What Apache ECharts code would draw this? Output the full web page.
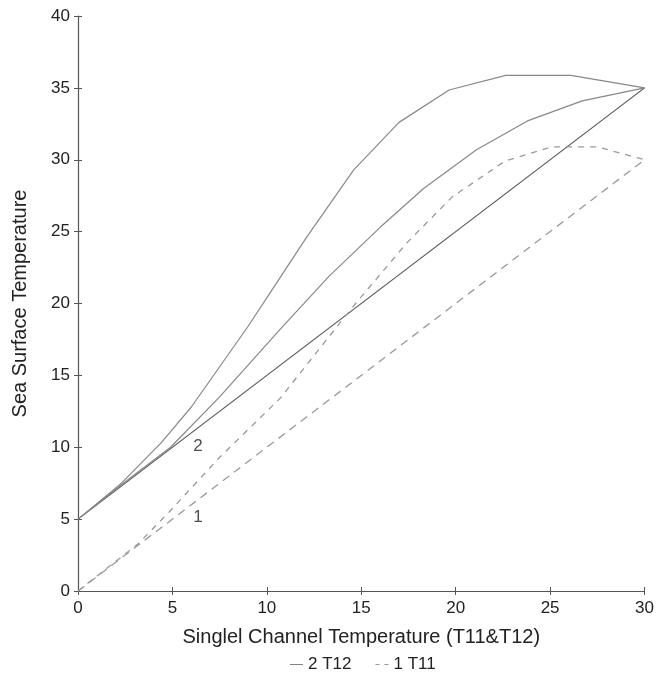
<!DOCTYPE html>
<html>
<head>
<meta charset="utf-8">
<script src="https://cdn.jsdelivr.net/npm/echarts@6/dist/echarts.min.js"></script>
<style>
html,body{margin:0;padding:0;background:#fff;}
#chart{width:657px;height:686px;}
</style>
</head>
<body>
<div id="chart"></div>
<script>
// ---- data ----
var xTicks = [0, 5, 10, 15, 20, 25, 30];
var yTicks = [0, 5, 10, 15, 20, 25, 30, 35, 40];

// T12 (solid) lines
var t12Straight = [[0, 5], [30, 35]];
var t12Middle = [[0, 5], [2.5, 7.6], [4.9, 10.0], [7.5, 13.5], [10.7, 18.2], [13.3, 21.9], [16.0, 25.3], [18.3, 28.0], [21.1, 30.7], [23.8, 32.7], [26.7, 34.1], [30, 35]];
var t12Top = [[0, 5], [2.3, 7.5], [4.4, 10.3], [6.0, 12.8], [7.5, 15.6], [9.0, 18.4], [10.5, 21.4], [12.1, 24.6], [14.6, 29.3], [17.0, 32.6], [19.65, 34.85], [22.65, 35.87], [26.1, 35.87], [30, 35]];

// T11 (dashed) lines
var t11Straight = [[0, 0], [30, 30]];
var t11Curve = [[0, 0], [3.2, 3.3], [4.9, 5.6], [7.5, 9.3], [10.7, 13.4], [13.9, 18.7], [14.7, 20.0], [17.4, 24.2], [19.8, 27.4], [22.6, 29.9], [25.1, 30.9], [27.5, 30.9], [30, 30]];

// in-plot annotations
var annotations = [[6.35, 10.1, '2'], [6.35, 5.1, '1']];

// legend entries
var legendNames = ['T12', 'T11'];
var legendDigits = ['2', '1'];

var xName = 'Singlel Channel Temperature (T11&T12)';
var yName = 'Sea Surface Temperature';

var FONT = 'Liberation Sans, Arial, sans-serif';
var chart = echarts.init(document.getElementById('chart'));

function lineSeries(name, data, color, type, width) {
  return {
    name: name, type: 'line', data: data, symbol: 'none', showSymbol: false, silent: true,
    lineStyle: { color: color, width: width || 1.2, type: type },
    itemStyle: { color: color },
    xAxisIndex: 0, yAxisIndex: 0, z: 3
  };
}

var solidIcon = 'path://M0,0 L16,0 L16,1 L0,1 Z';
var dashIcon = 'path://M0,0 L5,0 L5,1 L0,1 Z M11,0 L16,0 L16,1 L11,1 Z';

var option = {
  backgroundColor: '#fff',
  animation: false,
  textStyle: { fontFamily: FONT },
  grid: { left: 78, right: 12, top: 16, bottom: 95, containLabel: false },
  legend: {
    data: [
      { name: legendNames[0], icon: solidIcon, itemStyle: { color: '#666' } },
      { name: legendNames[1], icon: dashIcon, itemStyle: { color: '#999' } }
    ],
    bottom: 8,
    left: 285,
    itemWidth: 13,
    itemHeight: 1.4,
    itemGap: 24,
    textStyle: { fontSize: 17, color: '#222', fontFamily: FONT },
    formatter: function (n) { return legendDigits[legendNames.indexOf(n)] + ' ' + n; }
  },
  xAxis: [{
    type: 'value', min: xTicks[0], max: xTicks[xTicks.length - 1], interval: 5,
    position: 'bottom',
    name: xName, nameLocation: 'middle', nameGap: 36,
    nameTextStyle: { fontSize: 20, color: '#222', fontFamily: FONT },
    axisLine: { show: true, lineStyle: { color: '#555', width: 1.2 } },
    axisTick: { show: true, length: 4, lineStyle: { color: '#555' } },
    axisLabel: { fontSize: 17, color: '#222', margin: 9, fontFamily: FONT },
    splitLine: { show: false }
  }, {
    type: 'value', min: xTicks[0], max: xTicks[xTicks.length - 1], interval: 5,
    position: 'bottom', gridIndex: 0, offset: 0,
    axisLine: { show: true, onZero: false, lineStyle: { color: '#555', opacity: 0 } },
    axisTick: { show: true, inside: true, length: 4, lineStyle: { color: '#555', opacity: 1 } },
    axisLabel: { show: false }, splitLine: { show: false }
  }],
  yAxis: [{
    type: 'value', min: yTicks[0], max: yTicks[yTicks.length - 1], interval: 5,
    position: 'left',
    name: yName, nameLocation: 'middle', nameGap: 48, nameRotate: 90,
    nameTextStyle: { fontSize: 20, color: '#222', fontFamily: FONT },
    axisLine: { show: true, lineStyle: { color: '#555', width: 1.2 } },
    axisTick: { show: true, length: 4, lineStyle: { color: '#555' } },
    axisLabel: { fontSize: 17, color: '#222', margin: 8, fontFamily: FONT },
    splitLine: { show: false }
  }, {
    type: 'value', min: yTicks[0], max: yTicks[yTicks.length - 1], interval: 5,
    position: 'left', gridIndex: 0, offset: 0,
    axisLine: { show: true, onZero: false, lineStyle: { color: '#555', opacity: 0 } },
    axisTick: { show: true, inside: true, length: 4, lineStyle: { color: '#555', opacity: 1 } },
    axisLabel: { show: false }, splitLine: { show: false }
  }],
  series: [
    lineSeries('T12', t12Straight, '#555', 'solid', 1.2),
    lineSeries('T12', t12Middle, '#888', 'solid', 1.2),
    lineSeries('T12', t12Top, '#888', 'solid', 1.2),
    lineSeries('T11', t11Straight, '#999', [8, 6], 1.3),
    lineSeries('T11', t11Curve, '#999', [6, 6], 1.3),
    {
      name: 'labels', type: 'scatter', symbolSize: 0, silent: true,
      data: annotations.map(function (a) { return { value: [a[0], a[1]], label: { formatter: a[2] } }; }),
      label: { show: true, position: 'inside', fontSize: 17, color: '#222', fontFamily: FONT },
      z: 5
    }
  ]
};
chart.setOption(option);
</script>
</body>
</html>
